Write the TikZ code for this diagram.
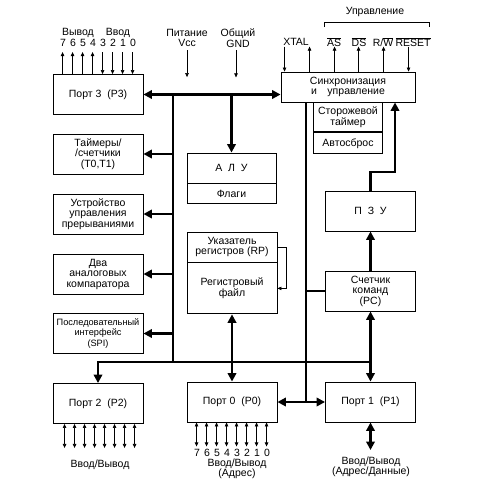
\documentclass[tikz,border=0pt]{standalone}
\usepackage{fontspec}
\setmainfont{Liberation Sans}
\usetikzlibrary{arrows.meta,positioning}

\tikzset{
  blk/.style={draw, line width=0.9pt, inner sep=0pt, align=center, minimum width=90pt, minimum height=40pt},
  bus/.style={line width=2.8pt},
  busarr/.style={bus, -{Triangle[length=8.5pt,width=8.5pt]}},
  busboth/.style={bus, {Triangle[length=8.5pt,width=8.5pt]}-{Triangle[length=8.5pt,width=8.5pt]}},
  pin/.style={line width=0.6pt},
  pinup/.style={pin, -{Triangle[length=4pt,width=3.5pt]}},
  pinboth/.style={pin, {Triangle[length=4pt,width=3.5pt]}-{Triangle[length=4pt,width=3.5pt]}},
  txt/.style={inner sep=0pt, align=center},
}

\begin{document}
\begin{tikzpicture}[x=1pt,y=-1pt,every node/.style={font=\fontsize{10.5}{10.5}\selectfont}]
\useasboundingbox (0,0) rectangle (500,491);

% left column
\node[blk] (p3) at (98,94.5) {Порт 3\ \ (P3)};
\node[blk] (tmr) at (98,154) {Таймеры/\\/счетчики\\(T0,T1)};
\node[blk] (irq) at (98,214) {Устройство\\управления\\прерываниями};
\node[blk] (cmp) at (98,274) {Два\\аналоговых\\компаратора};
\node[blk, font=\fontsize{9.2}{10.5}\selectfont] (spi) at (98,333.5) {Последовательный\\интерфейс\\(SPI)};
\node[blk] (p2) at (98,403.5) {Порт 2\ \ (P2)};

% middle column
\node[blk, minimum width=89pt, minimum height=30pt] (alu) at (231.5,168) {А\ \ Л\ \ У};
\node[blk, minimum width=89pt, minimum height=20pt, below=0pt of alu] (flg) {Флаги};
\node[blk, minimum height=30pt] (rp) at (232,247) {Указатель\\регистров (RP)};
\node[blk, minimum height=51pt, below=0pt of rp] (rf) {Регистровый\\файл};
\node[blk] (p0) at (232,402) {Порт 0\ \ (P0)};

% right column
\node[blk, minimum width=134pt, minimum height=30pt] (sync) at (348,87) {Синхронизация\\и\quad управление};
\node[blk, minimum width=69pt, minimum height=29pt, below=0pt of sync] (wdt) {Сторожевой\\таймер};
\node[blk, minimum width=69pt, minimum height=21pt, below=0pt of wdt] (rst) {Автосброс};
\node[blk] (pzu) at (370.5,211) {П\ \ З\ \ У};
\node[blk] (pc) at (370.5,291) {Счетчик\\команд\\(PC)};
\node[blk] (p1) at (370.5,402) {Порт 1\ \ (P1)};

% labels
\node[txt] (vyv) at (78,33) {Вывод};
\node[txt] (vvd) at (118,33) {Ввод};
\foreach \i [evaluate=\i as \d using int(7-\i)] in {0,...,7}
  \node[txt] (d3\i) at (63+10*\i,43) {\d};
\node[txt] (pwr) at (187,38) {Питание\\Vcc};
\node[txt] (gnd) at (238,38) {Общий\\GND};
\node[txt] (upr) at (375,12) {Управление};
\node[txt] (xtal) at (296,42) {XTAL};
\node[txt] (as) at (334,42) {$\overline{\mbox{AS}}$};
\node[txt] (ds) at (359,42) {$\overline{\mbox{DS}}$};
\node[txt] (rw) at (383,42) {R/$\overline{\mbox{W}}$};
\node[txt] (reset) at (413,42) {$\overline{\mbox{RESET}}$};
\foreach \i [evaluate=\i as \d using int(7-\i)] in {0,...,7}
  \node[txt] (d0\i) at (197+10*\i,453) {\d};
\node[txt] (io2) at (100,465) {Ввод/Вывод};
\node[txt] (io0) at (237,469) {Ввод/Вывод\\(Адрес)};
\node[txt] (io1) at (371,467) {Ввод/Вывод\\(Адрес/Данные)};

% bus junctions
\coordinate (tl) at (173,94.5);
\coordinate (bl) at (173,362);
\coordinate (rb) at (306,402);
\coordinate (rs) at (395,172);
\coordinate (p1o) at (370.5,450);

% buses
\draw[busboth] (p3.east) -- (p3.east -| sync.west);
\draw[bus] (tl) -- (bl);
\foreach \b in {tmr,irq,cmp,spi}
  \draw[busarr] (tl |- \b.east) -- (\b.east);
\draw[busarr] (alu.north |- tl) -- (alu.north);
\draw[busarr] (p1.north |- bl) -- (p2.north |- bl) -- (p2.north);
\draw[busboth] (rf.south) -- (p0.north);
\draw[bus] (sync.south -| rb) -- (rb);
\draw[bus] (rb |- pc.west) -- (pc.west);
\draw[busboth] (p0.east) -- (p1.west);
\draw[busboth] (pc.south) -- (p1.north);
\draw[busarr] (pc.north) -- (pzu.south);
\draw[busarr] (pzu.north) |- (rs) -- (rs |- sync.south);
\draw[busboth] (p1.south) -- (p1o);

% pins
\foreach \i in {0,...,3}
  \draw[pinup] ([xshift=10pt+10pt*\i]p3.north west) -- ++(0,-22);
\foreach \i in {4,...,7}
  \draw[pinup] ([xshift=10pt+10pt*\i,yshift=22pt]p3.north west) -- ([xshift=10pt+10pt*\i]p3.north west);
\foreach \i in {0,...,7}
  \draw[pinboth] ([xshift=12pt+10pt*\i]p2.south west) -- ++(0,24);
\foreach \i in {0,...,7}
  \draw[pinboth] ([xshift=10pt+10pt*\i]p0.south west) -- ++(0,24);
\draw[pinup] ([yshift=-3pt]pwr.south) -- ++(0,27);
\draw[pinup] ([xshift=-2pt,yshift=-3pt]gnd.south) -- ++(0,27);
\draw[pinup] ([xshift=4pt,yshift=25pt]sync.north west) -- ([xshift=4pt]sync.north west);
\foreach \o in {29,54,78,103}
  \draw[pinup] ([xshift=\o pt]sync.north west) -- ++(0,-25);
\draw[pinup] ([xshift=128pt,yshift=25pt]sync.north west) -- ([xshift=128pt]sync.north west);
\draw[pin] (324,27) -- (324,22) -- (429,22) -- (429,27);
\draw[pinup] (rp.east) -- ++(9,0) |- (rf.east);
\end{tikzpicture}
\end{document}
